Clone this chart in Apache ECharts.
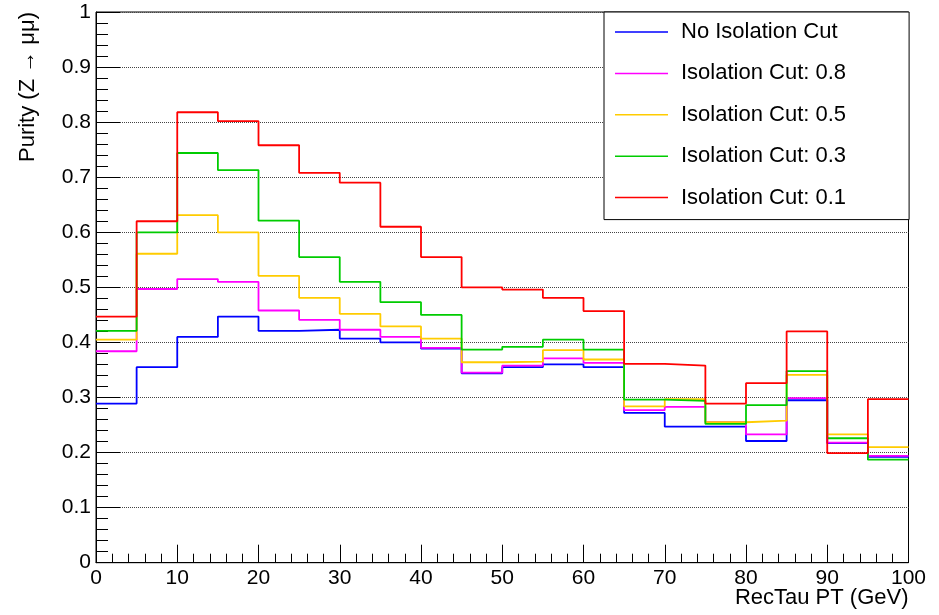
<!DOCTYPE html>
<html>
<head>
<meta charset="utf-8">
<script src="https://cdn.jsdelivr.net/npm/echarts@6/dist/echarts.min.js"></script>
<style>
html,body{margin:0;padding:0;background:#fff;}
#c{width:939px;height:615px;}
</style>
</head>
<body>
<div id="c"></div>
<script>
// Bin edges (GeV), 5 GeV bins from 0 to 100
var binEdges = [0,5,10,15,20,25,30,35,40,45,50,55,60,65,70,75,80,85,90,95,100];
var seriesNames = ['No Isolation Cut','Isolation Cut: 0.8','Isolation Cut: 0.5','Isolation Cut: 0.3','Isolation Cut: 0.1'];
var noIsoCut = [0.289,0.355,0.410,0.447,0.421,0.423,0.407,0.400,0.389,0.344,0.355,0.360,0.355,0.272,0.247,0.247,0.221,0.295,0.217,0.192];
var isoCut08 = [0.384,0.497,0.515,0.510,0.458,0.441,0.423,0.410,0.390,0.345,0.358,0.371,0.363,0.277,0.283,0.255,0.233,0.299,0.218,0.194];
var isoCut05 = [0.405,0.561,0.631,0.600,0.521,0.481,0.452,0.429,0.407,0.364,0.365,0.386,0.369,0.284,0.297,0.255,0.258,0.341,0.233,0.210];
var isoCut03 = [0.421,0.600,0.744,0.713,0.621,0.555,0.510,0.473,0.450,0.387,0.392,0.405,0.387,0.296,0.294,0.252,0.286,0.348,0.226,0.187];
var isoCut01 = [0.447,0.620,0.818,0.802,0.758,0.708,0.690,0.610,0.555,0.500,0.496,0.481,0.457,0.361,0.358,0.289,0.326,0.420,0.199,0.297];
var colors = ['#0000ff','#ff00ff','#ffcc00','#00cc00','#ff0000'];

function histData(vals){
  var d = [];
  for (var i = 0; i < vals.length; i++) d.push([binEdges[i], vals[i]]);
  d.push([binEdges[binEdges.length-1], vals[vals.length-1]]);
  return d;
}
var allVals = [noIsoCut, isoCut08, isoCut05, isoCut03, isoCut01];
var series = allVals.map(function(v, i){
  return {
    name: seriesNames[i], type: 'line', step: 'end', data: histData(v),
    symbol: 'none', showSymbol: false, animation: false,
    lineStyle: {color: colors[i], width: 1.8},
    itemStyle: {color: colors[i]}
  };
});

var font = 'Liberation Sans, Arial, Helvetica, sans-serif';
var chart = echarts.init(document.getElementById('c'), null, {renderer: 'canvas'});
chart.setOption({
  animation: false,
  backgroundColor: '#fff',
  grid: {left: 96, right: 30.5, top: 12, bottom: 52.3, show: true, borderColor: '#000', borderWidth: 1, containLabel: false, outerBoundsMode: 'none'},
  xAxis: {
    type: 'value', min: 0, max: 100, interval: 10,
    name: 'RecTau PT (GeV)', nameLocation: 'end', nameGap: 0, nameMoveOverlap: false,
    nameTextStyle: {fontFamily: font, fontSize: 22, color: '#000', align: 'right', verticalAlign: 'top', padding: [24, 0, 0, 0]},
    axisLine: {show: true, lineStyle: {color: '#000', width: 1}},
    axisTick: {show: true, inside: true, length: 18, lineStyle: {color: '#000'}},
    minorTick: {show: true, splitNumber: 5, length: 9, lineStyle: {color: '#000'}},
    axisLabel: {fontFamily: font, fontSize: 21, color: '#000', margin: 5},
    splitLine: {show: false}
  },
  yAxis: {
    type: 'value', min: 0, max: 1, interval: 0.1,
    axisLine: {show: true, lineStyle: {color: '#000', width: 1}},
    axisTick: {show: true, inside: true, length: 24, lineStyle: {color: '#000'}},
    minorTick: {show: true, splitNumber: 5, length: 12, lineStyle: {color: '#000'}},
    axisLabel: {fontFamily: font, fontSize: 21, color: '#000', margin: 5},
    splitLine: {show: true, lineStyle: {color: '#444', type: 'dotted', width: 1}}
  },
  legend: {
    orient: 'vertical', left: 604, top: 12,
    padding: [8, 63, 10, 11], itemGap: 17.4,
    itemWidth: 53, itemHeight: 1.5, icon: 'rect',
    borderColor: '#000', borderWidth: 1, backgroundColor: '#fff',
    textStyle: {fontFamily: font, fontSize: 22, color: '#000', lineHeight: 24, padding: [0, 0, 0, 8]},
    data: seriesNames
  },
  graphic: [{
    type: 'text', x: 28, y: 12, rotation: Math.PI/2,
    style: {text: 'Purity (Z \u2192 \u03bc\u03bc)', font: '22px ' + font, fill: '#000', align: 'right', verticalAlign: 'middle'}
  }],
  series: series
});
</script>
</body>
</html>
